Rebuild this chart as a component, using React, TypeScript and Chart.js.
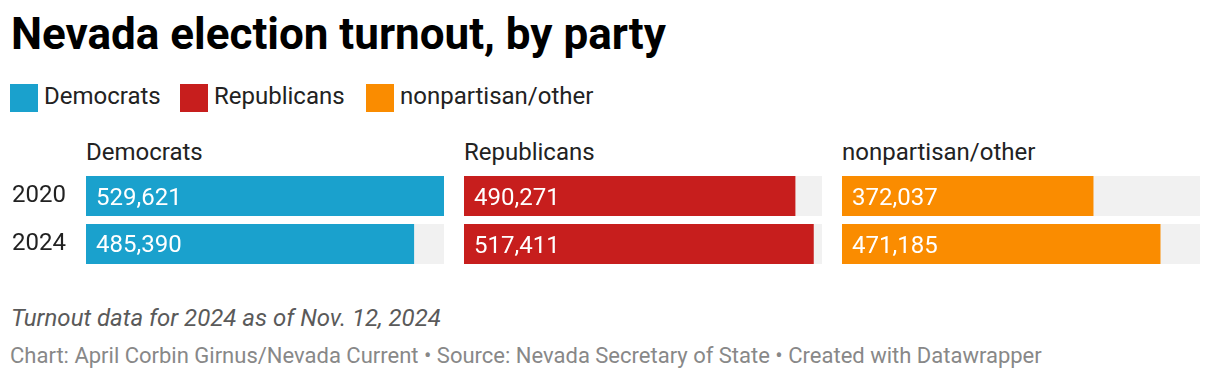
import React, { useEffect, useRef } from "react";
import { Chart, registerables } from "chart.js";

Chart.register(...registerables);

const years = ["2020", "2024"];
const democrats = [529621, 485390];
const republicans = [490271, 517411];
const nonpartisan = [372037, 471185];

const partyNames = ["Democrats", "Republicans", "nonpartisan/other"];
const partyColors = ["#1aa1cd", "#c71e1d", "#fa8c00"];
const partySeries = [democrats, republicans, nonpartisan];

const titleText = "Nevada election turnout, by party";
const noteText = "Turnout data for 2024 as of Nov. 12, 2024";
const creditText =
  "Chart: April Corbin Girnus/Nevada Current • Source: Nevada Secretary of State • Created with Datawrapper";

const FONT = "Roboto, 'Noto Sans', sans-serif";
const BG_BAR = "#f1f1f1";

const maxValue = Math.max(...democrats, ...republicans, ...nonpartisan);

// top offset so that text baseline lands at given y (line-height = font size)
const topFor = (baseline: number, size: number) => baseline - 0.8415 * size;

const valueLabelPlugin = {
  id: "valueLabels",
  afterDatasetsDraw(chart: any) {
    const ctx = chart.ctx;
    const meta = chart.getDatasetMeta(0);
    const ds = chart.data.datasets[0];
    ctx.save();
    ctx.font = `400 24px ${FONT}`;
    ctx.fillStyle = "#ffffff";
    ctx.textAlign = "left";
    ctx.textBaseline = "alphabetic";
    meta.data.forEach((bar: any, i: number) => {
      const v = ds.data[i] as number;
      ctx.fillText(v.toLocaleString("en-US"), bar.base + 10, bar.y + 8.5);
    });
    ctx.restore();
  },
};

function Panel({
  values,
  color,
  showYears,
  left,
  width,
}: {
  values: number[];
  color: string;
  showYears: boolean;
  left: number;
  width: number;
}) {
  const ref = useRef<HTMLCanvasElement | null>(null);
  useEffect(() => {
    if (!ref.current) return;
    const yScale: any = showYears
      ? {
          display: true,
          grid: { display: false, drawTicks: true, tickLength: 20 },
          border: { display: false },
          ticks: {
            color: "#222222",
            padding: 0,
            font: { family: FONT, size: 24, lineHeight: 0.01 },
          },
          afterFit: (scale: any) => {
            scale.width = 86;
          },
        }
      : { display: false };
    const chart = new Chart(ref.current, {
      type: "bar",
      data: {
        labels: years,
        datasets: [
          {
            data: values,
            backgroundColor: color,
            borderWidth: 0,
            grouped: false,
            order: 1,
            barPercentage: 40 / 48,
            categoryPercentage: 1,
          } as any,
          {
            data: values.map(() => maxValue),
            backgroundColor: BG_BAR,
            borderWidth: 0,
            grouped: false,
            order: 2,
            barPercentage: 40 / 48,
            categoryPercentage: 1,
          } as any,
        ],
      },
      options: {
        indexAxis: "y",
        animation: false,
        responsive: false,
        maintainAspectRatio: false,
        devicePixelRatio: 1,
        layout: { padding: 0 },
        plugins: {
          legend: { display: false },
          tooltip: { enabled: false },
          title: { display: false },
        },
        scales: {
          x: {
            display: false,
            min: 0,
            max: maxValue,
          },
          y: yScale,
        },
      },
      plugins: [valueLabelPlugin],
    });
    return () => chart.destroy();
  }, []);
  return (
    <canvas
      ref={ref}
      width={width}
      height={96}
      style={{ position: "absolute", left, top: 172, width, height: 96 }}
    />
  );
}

export default function App() {
  const panelLefts = [86, 464, 842];
  const panelWidth = 358;
  const legendLefts = [10, 180, 366];
  return (
    <div
      style={{
        position: "absolute",
        left: 0,
        top: 0,
        width: 1220,
        height: 380,
        background: "#ffffff",
        fontFamily: FONT,
        overflow: "hidden",
      }}
    >
      <div
        style={{
          position: "absolute",
          left: 11,
          top: topFor(49.5, 44),
          fontSize: 44,
          lineHeight: "44px",
          fontWeight: 700,
          color: "#000000",
          whiteSpace: "nowrap",
        }}
      >
        {titleText}
      </div>

      {partyNames.map((name, i) => (
        <div key={name}>
          <div
            style={{
              position: "absolute",
              left: legendLefts[i],
              top: 84,
              width: 28,
              height: 28,
              background: partyColors[i],
            }}
          />
          <div
            style={{
              position: "absolute",
              left: legendLefts[i] + 34,
              top: topFor(104.5, 24),
              fontSize: 24,
              lineHeight: "24px",
              color: "#222222",
              whiteSpace: "nowrap",
            }}
          >
            {name}
          </div>
        </div>
      ))}

      {partyNames.map((name, i) => (
        <div
          key={"h" + name}
          style={{
            position: "absolute",
            left: panelLefts[i],
            top: topFor(160.5, 24),
            fontSize: 24,
            lineHeight: "24px",
            color: "#222222",
            whiteSpace: "nowrap",
          }}
        >
          {name}
        </div>
      ))}

      {partySeries.map((vals, i) => (
        <Panel
          key={"p" + i}
          values={vals}
          color={partyColors[i]}
          showYears={i === 0}
          left={i === 0 ? 0 : panelLefts[i]}
          width={i === 0 ? panelLefts[0] + panelWidth : panelWidth}
        />
      ))}

      <div
        style={{
          position: "absolute",
          left: 11,
          top: topFor(326, 24),
          fontSize: 24,
          lineHeight: "24px",
          fontStyle: "italic",
          color: "#5a5a5a",
          whiteSpace: "nowrap",
        }}
      >
        {noteText}
      </div>
      <div
        style={{
          position: "absolute",
          left: 10,
          top: topFor(363.5, 22),
          fontSize: 22,
          lineHeight: "22px",
          color: "#888888",
          whiteSpace: "nowrap",
        }}
      >
        {creditText}
      </div>
    </div>
  );
}
